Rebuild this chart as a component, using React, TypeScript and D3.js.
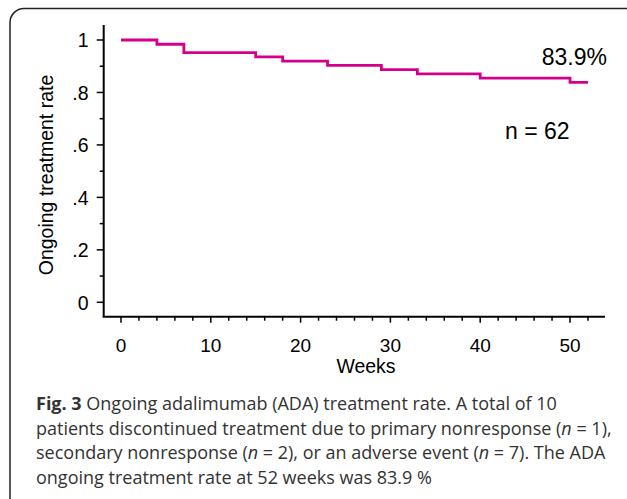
import React from "react";
import * as d3 from "d3";

const weeks = [0, 4, 7, 15, 18, 23, 29, 33, 40, 50, 52];
const rates = [1, 61 / 62, 59 / 62, 58 / 62, 57 / 62, 56 / 62, 55 / 62, 54 / 62, 53 / 62, 52 / 62, 52 / 62];
const yMajor = [0, 0.2, 0.4, 0.6, 0.8, 1];
const yMajorLabels = ["0", ".2", ".4", ".6", ".8", "1"];
const yMinor = [0.1, 0.3, 0.5, 0.7, 0.9];
const xMajor = [0, 10, 20, 30, 40, 50];
const xMinor = [2, 4, 6, 8, 12, 14, 16, 18, 22, 24, 26, 28, 32, 34, 36, 38, 42, 44, 46, 48, 52];

const AX = "'Liberation Sans', Arial, Helvetica, sans-serif";
const CAP = "'Open Sans', 'Noto Sans', sans-serif";

export default function App() {
  const x = d3.scaleLinear().domain([0, 50]).range([121, 570]);
  const y = d3.scaleLinear().domain([0, 1]).range([302.3, 40]);
  const axX = 103.7;
  const axY = 316.7;
  const pts = weeks.map((w, i) => [w, rates[i]] as [number, number]);
  const line = d3
    .line<[number, number]>()
    .x((d) => x(d[0]))
    .y((d) => y(d[1]))
    .curve(d3.curveStepAfter);

  return (
    <svg
      width={627}
      height={499}
      style={{ position: "absolute", left: 0, top: 0, background: "#fff" }}
    >
      <rect x={10} y={8.5} width={640} height={520} rx={14} ry={14} fill="none" stroke="#222" strokeWidth={1.5} />
      {/* axes */}
      <line x1={axX} y1={25} x2={axX} y2={axY} stroke="#000" strokeWidth={2} />
      <line x1={axX - 1} y1={axY} x2={605} y2={axY} stroke="#000" strokeWidth={2} />
      {yMajor.map((v, i) => (
        <g key={"ym" + i}>
          <line x1={axX - 7} x2={axX} y1={y(v)} y2={y(v)} stroke="#000" strokeWidth={1.5} />
          <text x={88.5} y={y(v) + 7.2} textAnchor="end" fontFamily={AX} fontSize={19.5} fill="#000">
            {yMajorLabels[i]}
          </text>
        </g>
      ))}
      {yMinor.map((v, i) => (
        <line key={"yn" + i} x1={axX - 4} x2={axX} y1={y(v)} y2={y(v)} stroke="#000" strokeWidth={1.5} />
      ))}
      {xMajor.map((v, i) => (
        <g key={"xm" + i}>
          <line x1={x(v)} x2={x(v)} y1={axY} y2={axY + 6} stroke="#000" strokeWidth={1.5} />
          <text x={x(v)} y={352} textAnchor="middle" fontFamily={AX} fontSize={19} fill="#000">
            {v}
          </text>
        </g>
      ))}
      {xMinor.map((v, i) => (
        <line key={"xn" + i} x1={x(v)} x2={x(v)} y1={axY} y2={axY + 4} stroke="#000" strokeWidth={1.5} />
      ))}
      <text x={366} y={373} textAnchor="middle" fontFamily={AX} fontSize={19.5} fill="#000">
        Weeks
      </text>
      <text
        transform="translate(53,175) rotate(-90)"
        textAnchor="middle"
        fontFamily={AX}
        fontSize={19.5}
        fill="#000"
      >
        Ongoing treatment rate
      </text>
      <path d={line(pts) || ""} fill="none" stroke="#d4008c" strokeWidth={2.8} />
      <text x={607} y={65} textAnchor="end" fontFamily={AX} fontSize={23} fill="#000">
        83.9%
      </text>
      <text x={505} y={139} fontFamily={AX} fontSize={23} fill="#000">
        n = 62
      </text>
      {/* caption */}
      <g fontFamily={CAP} fontSize={18} fill="#333">
        <text x={36} y={410}>
          <tspan fontWeight="bold">Fig. 3</tspan> Ongoing adalimumab (ADA) treatment rate. A total of 10
        </text>
        <text x={36} y={434.5}>
          patients discontinued treatment due to primary nonresponse (<tspan fontStyle="italic">n</tspan> = 1),
        </text>
        <text x={36} y={459}>
          secondary nonresponse (<tspan fontStyle="italic">n</tspan> = 2), or an adverse event (
          <tspan fontStyle="italic">n</tspan> = 7). The ADA
        </text>
        <text x={36} y={483.5}>
          ongoing treatment rate at 52 weeks was 83.9 %
        </text>
      </g>
    </svg>
  );
}
